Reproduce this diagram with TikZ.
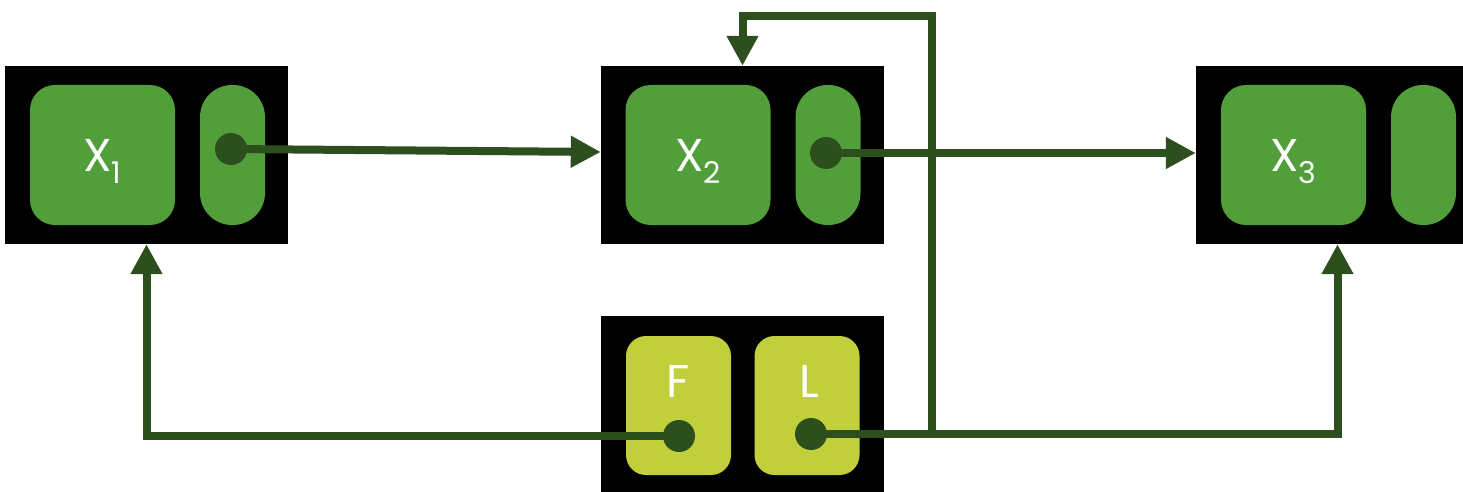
\documentclass[tikz,border=0pt]{standalone}
\usepackage{fontspec}
\setmainfont{Poppins}
\usetikzlibrary{arrows.meta}

\definecolor{leaf}{HTML}{529E3A}
\definecolor{moss}{HTML}{2D4F1E}
\definecolor{lime}{HTML}{C1D03A}
\newcommand{\lowidx}[1]{\raisebox{-0.28em}{\fontsize{30}{30}\selectfont #1}}

\begin{document}
\begin{tikzpicture}[x=1pt,y=-1pt,
  frame/.style={fill=black, minimum width=283pt, minimum height=178pt, inner sep=0pt},
  cell/.style={fill=leaf, rounded corners=25pt, minimum width=145pt, minimum height=140pt, inner sep=0pt, text depth=0pt, text=white, font=\fontsize{46}{50}\selectfont},
  pill/.style={fill=leaf, rounded corners=32pt, minimum width=65pt, minimum height=140pt, inner sep=0pt},
  tag/.style={fill=lime, rounded corners=20pt, minimum width=105pt, minimum height=139pt, inner sep=0pt},
  lbl/.style={text=white, inner sep=0pt, font=\fontsize{46}{50}\selectfont},
  port/.style={circle, fill=moss, minimum size=32pt, inner sep=0pt},
  wire/.style={draw=moss, line width=8pt},
  flow/.style={wire, -{Triangle[length=30pt,width=30pt]}}]

\useasboundingbox (0,0) rectangle (1463,492);

% top row
\node[frame] (b1) at (146.5,155) {};
\node[cell] (x1) at (102.5,155) {X\lowidx{1}};
\node[pill] (s1) at (232.5,155) {};

\node[frame] (b2) at (742.5,155) {};
\node[cell] (x2) at (698,155) {X\lowidx{2}};
\node[pill] (s2) at (828,155) {};

\node[frame] (b3) at (1337.5,155) {};
\node[cell] (x3) at (1293.5,155) {X\lowidx{3}};
\node[pill] (s3) at (1423.5,155) {};

% bottom block
\node[frame] (b4) at (742.5,405) {};
\node[tag] (bF) at (678.5,405.5) {};
\node[tag] (bL) at (807,405.5) {};
\node[lbl] (nF) at (678,381) {F};
\node[lbl] (nL) at (809,381) {L};

% ports
\coordinate (c1) at (231,149);
\coordinate (c2) at (826,153);
\coordinate (cF) at (679,436);
\coordinate (cL) at (811,434);
\coordinate (tap) at (932,434);
\coordinate (hook) at (932,16);

\draw[flow] (c1) -- ([yshift=3pt]b2.west);
\draw[flow] (c2) -- (b3.west |- c2);
\draw[flow] (cF) -| (b1.south);
\draw[flow] (cL) -| (b3.south);
\draw[flow] (tap) -- (hook) -| (b2.north);

\node[port] (d1) at (c1) {};
\node[port] (d2) at (c2) {};
\node[port] (dF) at (cF) {};
\node[port] (dL) at (cL) {};

\end{tikzpicture}
\end{document}
